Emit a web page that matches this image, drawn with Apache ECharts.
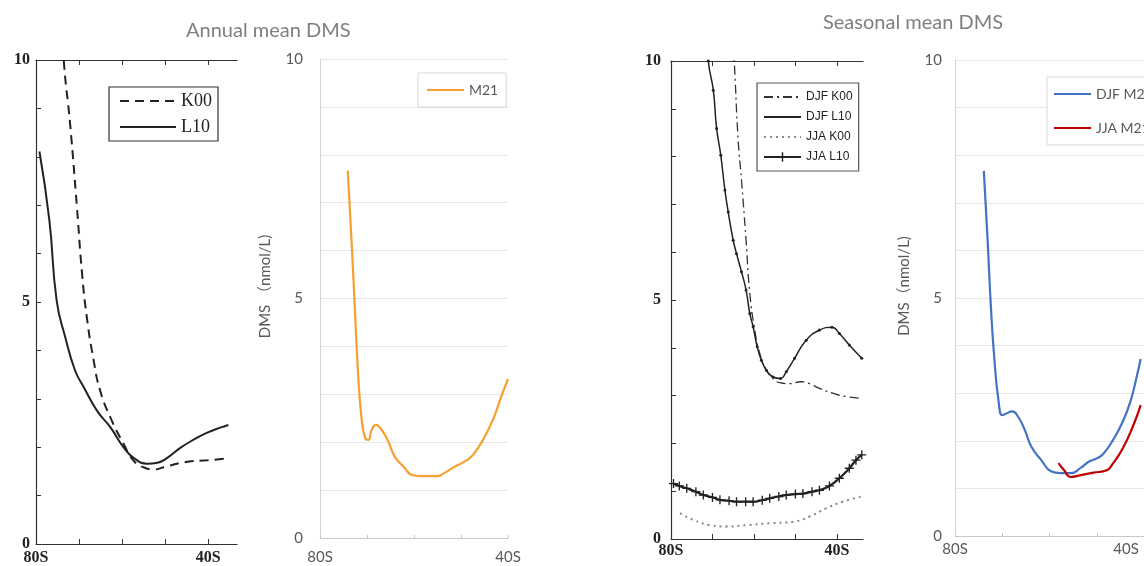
<!DOCTYPE html>
<html><head><meta charset="utf-8">
<script src="https://cdn.jsdelivr.net/npm/echarts@6/dist/echarts.min.js"></script>
<style>html,body{margin:0;padding:0;background:#fff}#c{width:1144px;height:566px}</style>
</head><body><div id="c"></div>
<script>
// ---------- data: [latitude (negative = south), DMS nmol/L] ----------
const k00Annual = [[-73.65,10.3],[-73.5,9.94],[-72.1,8.70],[-70.5,6.97],[-69.3,5.59],[-68.2,4.69],[-66.6,3.79],[-65.1,3.17],[-62.7,2.61],[-59.6,2.06],[-57.3,1.72],[-54.9,1.58],[-52.6,1.54],[-49.5,1.61],[-44.8,1.70],[-40.2,1.73],[-35.3,1.77]];
const l10Annual = [[-79.2,8.11],[-76.9,6.69],[-75.2,5.03],[-73.2,4.27],[-70.9,3.58],[-68.9,3.24],[-65.8,2.75],[-62.7,2.41],[-59.6,1.99],[-57.3,1.78],[-54.2,1.66],[-51.8,1.68],[-49.5,1.78],[-46.4,1.99],[-43.3,2.16],[-40.2,2.30],[-37.0,2.41],[-35.3,2.46]];
const m21Annual = [[-74.1,7.67],[-73.3,6.23],[-72.6,4.83],[-71.9,3.44],[-71.2,2.54],[-70.4,2.09],[-69.7,2.05],[-69.0,2.26],[-68.1,2.36],[-66.9,2.26],[-65.5,2.02],[-64.1,1.70],[-62.3,1.50],[-60.2,1.31],[-58.1,1.29],[-55.2,1.29],[-53.5,1.36],[-51.7,1.47],[-48.8,1.62],[-47.4,1.74],[-45.3,2.05],[-43.2,2.47],[-41.4,2.96],[-40.0,3.32]];
const djfK00 = [[-65.0,10.3],[-64.7,9.91],[-63.8,8.34],[-63.0,7.51],[-61.9,6.25],[-61.0,5.14],[-59.8,4.37],[-58.6,3.88],[-57.0,3.53],[-55.4,3.36],[-53.8,3.27],[-51.4,3.25],[-48.6,3.29],[-46.6,3.25],[-44.2,3.15],[-41.0,3.05],[-37.8,2.98],[-34.0,2.94]];
const djfL10 = [[-71.2,10.4],[-71.0,10.0],[-69.8,9.39],[-69.0,8.59],[-68.0,8.03],[-67.0,7.30],[-66.2,6.84],[-65.0,6.25],[-64.2,5.97],[-63.0,5.59],[-61.9,5.21],[-61.0,4.72],[-60.2,4.44],[-59.2,4.02],[-58.2,3.74],[-57.0,3.53],[-55.4,3.39],[-53.6,3.36],[-52.2,3.50],[-50.2,3.78],[-47.4,4.16],[-44.2,4.37],[-41.2,4.43],[-39.4,4.30],[-37.0,4.06],[-34.0,3.78]];
const jjaK00 = [[-77.8,0.54],[-74.6,0.40],[-70.6,0.29],[-66.6,0.26],[-61.8,0.29],[-56.2,0.33],[-50.6,0.36],[-46.6,0.47],[-42.6,0.64],[-38.6,0.78],[-34.0,0.89]];
const jjaL10 = [[-79.4,1.16],[-78,1.11],[-76.2,1.06],[-74,0.99],[-72.2,0.92],[-70,0.87],[-68.2,0.82],[-66,0.80],[-64.2,0.78],[-62,0.78],[-60.2,0.78],[-58,0.81],[-56.2,0.85],[-54,0.89],[-52.2,0.92],[-50,0.94],[-48.2,0.95],[-46,0.99],[-44.2,1.02],[-41.8,1.11],[-39.4,1.27],[-37.0,1.48],[-35.4,1.65],[-34.0,1.76]];
const djfM21 = [[-73.9,7.67],[-73.1,6.22],[-72.4,4.81],[-71.7,3.76],[-70.8,2.85],[-70.0,2.54],[-69.2,2.57],[-67.9,2.62],[-66.6,2.50],[-65.2,2.22],[-63.8,1.87],[-61.7,1.59],[-59.7,1.36],[-57.6,1.32],[-55.5,1.32],[-53.4,1.43],[-51.7,1.56],[-50.0,1.63],[-48.6,1.73],[-46.6,2.01],[-44.5,2.40],[-42.8,2.85],[-41.4,3.41],[-40.7,3.72]];
const jjaM21 = [[-58.1,1.53],[-56.9,1.38],[-55.5,1.24],[-53.4,1.28],[-50.7,1.33],[-47.9,1.38],[-46.6,1.52],[-44.5,1.84],[-42.4,2.29],[-40.7,2.75]];
const xTicks = [-80,-70,-60,-50,-40];
const xLabels = [-80,-40];
const yLabels = [0,5,10];
const titles = ['Annual mean DMS','Seasonal mean DMS'];
const yName = ['DMS （nmol/L)','DMS（nmol/L)'];

const SERIF = '"Liberation Serif","DejaVu Serif",serif';
const SANS = 'Lato,"Noto Sans","Noto Sans CJK SC",sans-serif';
const latFmt = v => (xLabels.indexOf(Math.round(v))>=0 ? Math.abs(Math.round(v))+'S' : '');
const yFmt = v => (yLabels.indexOf(v)>=0 ? String(v) : '');

function matX(grid, max, pos, margin){
  return {type:'value', gridIndex:grid, min:-80, max:max, interval:10, position:pos,
    axisLine:{show:true,onZero:false,lineStyle:{color:'#333',width:1.2}},
    axisTick:{show:true,inside:true,length:5,customValues:xTicks,lineStyle:{color:'#333'}},
    axisLabel:{show:pos==='bottom',customValues:xLabels,formatter:latFmt,margin:margin,
      fontFamily:SERIF,fontSize:16,fontWeight:'bold',color:'#222'},
    splitLine:{show:false}};
}
function matY(grid, margin){
  return {type:'value', gridIndex:grid, min:0, max:10, interval:1,
    axisLine:{show:true,onZero:false,lineStyle:{color:'#333',width:1.2}},
    axisTick:{show:true,inside:true,length:5,lineStyle:{color:'#333'}},
    axisLabel:{formatter:yFmt,margin:margin,fontFamily:SERIF,fontSize:16,fontWeight:'bold',color:'#222'},
    splitLine:{show:false}};
}
function xlX(grid, margin, shift){
  return {type:'value', gridIndex:grid, min:-80, max:-40, interval:10,
    axisLine:{show:true,onZero:false,lineStyle:{color:'#c8c8c8',width:1}},
    axisTick:{show:true,inside:true,length:3,customValues:xTicks,lineStyle:{color:'#c8c8c8'}},
    axisLabel:{customValues:xLabels,margin:margin,
      formatter:v=>{const s=latFmt(v); return (shift && Math.round(v)===-40) ? '{r|'+s+'}' : s;},
      rich:{r:{padding:[0,shift||0,0,0],fontFamily:SANS,fontSize:15,color:'#595959'}},
      fontFamily:SANS,fontSize:15,color:'#595959'},
    splitLine:{show:false}};
}
function xlY(grid, margin, name){
  return {type:'value', gridIndex:grid, min:0, max:10, interval:1,
    name:name, nameLocation:'middle', nameGap:margin+30, nameRotate:90,
    nameTextStyle:{fontFamily:SANS,fontSize:15,color:'#595959',padding:[0,0,0,24]},
    axisLine:{show:true,lineStyle:{color:'#d4d4d4'}},
    axisTick:{show:false},
    axisLabel:{formatter:yFmt,margin:margin,fontFamily:SANS,fontSize:15,color:'#595959'},
    splitLine:{show:true,lineStyle:{color:'#e6e6e6'}}};
}

const plus = 'path://M4,0h1.4v4h4v1.4h-4v4h-1.4v-4h-4v-1.4h4z';
function line(name, data, xi, yi, style, extra){
  return Object.assign({name:name, type:'line', data:data, xAxisIndex:xi, yAxisIndex:yi,
    smooth:0.5, symbol:'none', clip:true, animation:false,
    lineStyle:style, itemStyle:{color:style.color}}, extra||{});
}
const noSym = n => ({name:n, itemStyle:{opacity:0}});

const option = {
  animation:false,
  title:[
    {text:titles[0], left:181, top:16, textStyle:{fontFamily:SANS,fontSize:20,fontWeight:'normal',color:'#7f7f7f'}},
    {text:titles[1], left:818, top:8, textStyle:{fontFamily:SANS,fontSize:20,fontWeight:'normal',color:'#7f7f7f'}}
  ],
  grid:[
    {left:36, top:60, width:201, height:484},
    {left:320, top:59, width:188, height:479},
    {left:671, top:61, width:192, height:478},
    {left:955, top:60, width:193, height:476}
  ],
  xAxis:[
    matX(0,-33.3,'bottom',6), matX(0,-33.3,'top',6),
    xlX(1,12,0),
    matX(2,-33.7,'bottom',4), matX(2,-33.7,'top',4),
    xlX(3,6,36)
  ],
  yAxis:[ matY(0,6), xlY(1,17,yName[0]), matY(2,10), xlY(3,13,yName[1]) ],
  legend:[
    {data:[noSym('K00'),noSym('L10')], left:109, top:87, orient:'vertical', itemWidth:56, itemHeight:12, itemGap:8,
     padding:[5,6,5,10], borderColor:'#333', borderWidth:1.2, backgroundColor:'#fff',
     textStyle:{fontFamily:SERIF,fontSize:18,color:'#222'}},
    {data:[noSym('M21')], left:418, top:73, orient:'vertical', itemWidth:37, itemHeight:12,
     padding:[10,8,10,8], borderColor:'#d9d9d9', borderWidth:1, backgroundColor:'#fff',
     textStyle:{fontFamily:SANS,fontSize:14,color:'#595959'}},
    {data:[noSym('DJF K00'),noSym('DJF L10'),noSym('JJA K00'),'JJA L10'], left:757, top:83, orient:'vertical', itemWidth:37, itemHeight:12, itemGap:8,
     padding:[8,6,8,6], borderColor:'#555', borderWidth:1.2, backgroundColor:'#fff',
     textStyle:{fontFamily:'"Liberation Sans",Arial,sans-serif',fontSize:12,color:'#222'}},
    {data:[noSym('DJF M21'),noSym('JJA M21')], left:1047, top:77, orient:'vertical', itemWidth:37, itemHeight:12, itemGap:20,
     padding:[10,8,10,6], borderColor:'#d9d9d9', borderWidth:1, backgroundColor:'#fff',
     textStyle:{fontFamily:SANS,fontSize:14,color:'#595959'}}
  ],
  series:[
    line('K00', k00Annual, 0, 0, {color:'#222',width:2,type:[9,6]}),
    line('L10', l10Annual, 0, 0, {color:'#222',width:2}),
    line('M21', m21Annual, 2, 1, {color:'#F5A031',width:2.2}),
    line('DJF K00', djfK00, 3, 2, {color:'#333',width:1.3,type:[9,4,2,4]}),
    line('DJF L10', djfL10, 3, 2, {color:'#222',width:1.5}, {symbol:'circle', symbolSize:3, showSymbol:true}),
    line('JJA K00', jjaK00, 3, 2, {color:'#888',width:2,type:[2,4]}),
    line('JJA L10', jjaL10, 3, 2, {color:'#222',width:2.2}, {symbol:plus, symbolSize:[9,9], showSymbol:true}),
    line('DJF M21', djfM21, 5, 3, {color:'#4472C4',width:2.2}),
    line('JJA M21', jjaM21, 5, 3, {color:'#C00000',width:2.2})
  ]
};
const chart = echarts.init(document.getElementById('c'), null, {renderer:'canvas'});
chart.setOption(option);
</script>
</body></html>
